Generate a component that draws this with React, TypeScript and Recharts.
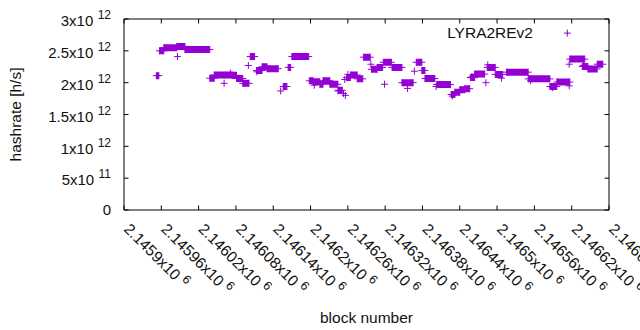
import React from 'react';
import { LineChart, Line, XAxis, YAxis, Legend } from 'recharts';

// series name shown in the key
const SERIES_NAME = 'LYRA2REv2';

// runs of equal hashrate: first block, last block, hashrate [h/s]
const runStart = [
  2145952, 2145957, 2145964, 2145985, 2145986, 2145998, 2146038, 2146045, 2146061, 2146062,
  2146071, 2146074, 2146081, 2146091, 2146100, 2146103, 2146113, 2146114, 2146122, 2146130,
  2146152, 2146156, 2146164, 2146170, 2146198, 2146204, 2146206, 2146215, 2146220, 2146231,
  2146244, 2146245, 2146253, 2146255, 2146256, 2146258, 2146260, 2146264, 2146275, 2146285,
  2146297, 2146298, 2146307, 2146317, 2146319, 2146331, 2146347, 2146356, 2146367, 2146370,
  2146379, 2146384, 2146402, 2146403, 2146426, 2146428, 2146432, 2146440, 2146448, 2146457,
  2146459, 2146464, 2146482, 2146484, 2146485, 2146497, 2146507, 2146515, 2146550, 2146554,
  2146585, 2146589, 2146596, 2146616, 2146616, 2146617, 2146637, 2146639, 2146646, 2146661,
];
const runEnd = [
  2145956, 2145964, 2145985, 2145998, 2145986, 2146038, 2146045, 2146061, 2146061, 2146074,
  2146071, 2146081, 2146091, 2146101, 2146100, 2146110, 2146122, 2146114, 2146130, 2146148,
  2146152, 2146162, 2146168, 2146197, 2146204, 2146215, 2146206, 2146220, 2146231, 2146244,
  2146244, 2146251, 2146253, 2146255, 2146256, 2146264, 2146260, 2146275, 2146284, 2146296,
  2146297, 2146307, 2146316, 2146330, 2146319, 2146347, 2146365, 2146356, 2146367, 2146379,
  2146384, 2146400, 2146402, 2146425, 2146432, 2146428, 2146440, 2146448, 2146456, 2146464,
  2146459, 2146480, 2146482, 2146497, 2146485, 2146509, 2146507, 2146550, 2146585, 2146554,
  2146596, 2146589, 2146617, 2146616, 2146616, 2146641, 2146646, 2146639, 2146661, 2146670,
];
const runRate = [
  2.11e12, 2.5e12, 2.55e12, 2.57e12, 2.41e12, 2.52e12, 2.07e12, 2.12e12, 1.99e12, 2.12e12,
  2.15e12, 2.115e12, 2.065e12, 1.99e12, 2.27e12, 2.41e12, 2.19e12, 2.17e12, 2.25e12, 2.22e12,
  1.87e12, 1.94e12, 2.24e12, 2.41e12, 2.03e12, 2.015e12, 1.96e12, 1.975e12, 2.03e12, 1.975e12,
  1.87e12, 1.88e12, 1.83e12, 2.05e12, 1.8e12, 2.08e12, 2.13e12, 2.12e12, 2.06e12, 2.4e12,
  2.29e12, 2.21e12, 2.24e12, 2.32e12, 1.975e12, 2.24e12, 2.0e12, 1.91e12, 2.18e12, 2.32e12,
  2.19e12, 2.065e12, 1.94e12, 1.97e12, 1.815e12, 1.79e12, 1.85e12, 1.89e12, 1.905e12, 2.08e12,
  2.09e12, 2.135e12, 2.0e12, 2.24e12, 2.28e12, 2.13e12, 2.07e12, 2.165e12, 2.06e12, 2.03e12,
  1.94e12, 1.92e12, 2.01e12, 1.95e12, 2.29e12, 2.37e12, 2.255e12, 2.27e12, 2.215e12, 2.29e12,
];

const xTicks = [
  2145900, 2145960, 2146020, 2146080, 2146140, 2146200, 2146260,
  2146320, 2146380, 2146440, 2146500, 2146560, 2146620, 2146680,
];
const yTicks = [0, 5e11, 1e12, 1.5e12, 2e12, 2.5e12, 3e12];

const PURPLE = '#9400d3';
const FONT = '"Liberation Sans", Arial, sans-serif';
const TEXT = '#111';

// each run becomes a segment, a null row breaks the line between runs
const lineData: { block: number; rate: number | null }[] = [];
runStart.forEach((s, i) => {
  lineData.push({ block: s, rate: runRate[i] });
  if (runEnd[i] !== s) lineData.push({ block: runEnd[i], rate: runRate[i] });
  lineData.push({ block: runEnd[i], rate: null });
});

// gnuplot style "mantissa x10^exp"
const sciParts = (v: number) => {
  if (v === 0) return { m: '0', e: '' };
  const e = Math.floor(Math.log10(v) + 1e-9);
  const m = parseFloat((v / Math.pow(10, e)).toFixed(5));
  return { m: `${m}x10`, e: ` ${e}` };
};

const cross = (cx: number, cy: number) => `M${cx - 3.5},${cy}h7M${cx},${cy - 3.5}v7`;

const renderDot = (props: any) => {
  const { cx, cy, index, value } = props;
  if (value == null || cx == null || cy == null || Number.isNaN(cy)) {
    return <g key={`d-${index}`} />;
  }
  return <path key={`d-${index}`} d={cross(cx, cy)} stroke={PURPLE} strokeWidth={1} fill="none" />;
};

const BottomTick = (props: any) => {
  const { x, y, payload } = props;
  const { m, e } = sciParts(payload.value);
  return (
    <g>
      <line x1={x} x2={x} y1={y} y2={y - 4.5} stroke="#000" />
      <text
        transform={`translate(${x - 1},${y + 20}) rotate(45)`}
        fontFamily={FONT}
        fontSize={15.5}
        fill={TEXT}
      >
        {m}
        <tspan dx={1} dy={-6} fontSize={12.4}>{e}</tspan>
      </text>
    </g>
  );
};

const TopTick = (props: any) => {
  const { x, y } = props;
  return <line x1={x} x2={x} y1={y} y2={y + 4.5} stroke="#000" />;
};

const LeftTick = (props: any) => {
  const { x, y, payload } = props;
  const { m, e } = sciParts(payload.value);
  return (
    <g>
      <line x1={x} x2={x + 4.5} y1={y} y2={y} stroke="#000" />
      <text
        x={x - 13}
        y={y + (e ? 7.3 : 5.4)}
        textAnchor="end"
        fontFamily={FONT}
        fontSize={15}
        fill={TEXT}
      >
        {m}
        {e ? <tspan dx={1} dy={-7} fontSize={12}>{e}</tspan> : null}
      </text>
    </g>
  );
};

const RightTick = (props: any) => {
  const { x, y } = props;
  return <line x1={x} x2={x - 4.5} y1={y} y2={y} stroke="#000" />;
};

const renderLegend = (props: any) => {
  const name = props.payload?.[0]?.value ?? SERIES_NAME;
  return (
    <div
      style={{
        position: 'relative',
        width: 250,
        height: 18,
        fontFamily: FONT,
        fontSize: 15.5,
        lineHeight: '18px',
        color: TEXT,
      }}
    >
      <span style={{ position: 'absolute', right: 50, top: 0, whiteSpace: 'nowrap' }}>{name}</span>
      <svg width={250} height={18} style={{ position: 'absolute', left: 0, top: 0, overflow: 'visible' }}>
        <path d={cross(234.3, 9.1)} stroke={PURPLE} strokeWidth={1} fill="none" />
      </svg>
    </div>
  );
};

const renderXLabel = (p: any) => {
  const vb = p.viewBox || { x: 124, y: 210, width: 485 };
  return (
    <text
      x={vb.x + vb.width / 2}
      y={322.5}
      textAnchor="middle"
      fontFamily={FONT}
      fontSize={15.5}
      fill={TEXT}
    >
      block number
    </text>
  );
};

const renderYLabel = (p: any) => {
  const vb = p.viewBox || { x: 123, y: 19, height: 191 };
  const cx = 21;
  const cy = vb.y + vb.height / 2;
  return (
    <text
      x={cx}
      y={cy}
      transform={`rotate(-90, ${cx}, ${cy})`}
      textAnchor="middle"
      fontFamily={FONT}
      fontSize={15.5}
      fill={TEXT}
    >
      hashrate [h/s]
    </text>
  );
};

export default function App() {
  return (
    <div style={{ position: 'absolute', left: 0, top: 0, width: 640, height: 330, background: '#fff' }}>
      <LineChart
        width={640}
        height={330}
        data={lineData}
        margin={{ top: 18, right: 30, bottom: 119, left: 123 }}
      >
        <XAxis
          xAxisId="bottom"
          dataKey="block"
          type="number"
          domain={[2145900, 2146680]}
          ticks={xTicks}
          height={1}
          tickSize={0}
          tickMargin={0}
          interval={0}
          axisLine={{ stroke: '#000' }}
          tickLine={false}
          tick={<BottomTick />}
          allowDataOverflow
          label={renderXLabel}
        />
        <XAxis
          xAxisId="top"
          orientation="top"
          dataKey="block"
          type="number"
          domain={[2145900, 2146680]}
          ticks={xTicks}
          height={1}
          tickSize={0}
          tickMargin={0}
          interval={0}
          axisLine={{ stroke: '#000' }}
          tickLine={false}
          tick={<TopTick />}
          allowDataOverflow
        />
        <YAxis
          yAxisId="left"
          type="number"
          domain={[0, 3e12]}
          ticks={yTicks}
          width={1}
          tickSize={0}
          tickMargin={0}
          interval={0}
          axisLine={{ stroke: '#000' }}
          tickLine={false}
          tick={<LeftTick />}
          allowDataOverflow
          label={renderYLabel}
        />
        <YAxis
          yAxisId="right"
          orientation="right"
          type="number"
          domain={[0, 3e12]}
          ticks={yTicks}
          width={1}
          tickSize={0}
          tickMargin={0}
          interval={0}
          axisLine={{ stroke: '#000' }}
          tickLine={false}
          tick={<RightTick />}
          allowDataOverflow
        />
        <Legend
          layout="horizontal"
          verticalAlign="middle"
          align="center"
          wrapperStyle={{ left: 333, top: 23.6, width: 250, height: 18 }}
          content={renderLegend}
        />
        <Line
          xAxisId="bottom"
          yAxisId="left"
          name={SERIES_NAME}
          dataKey="rate"
          type="linear"
          stroke={PURPLE}
          strokeWidth={7}
          strokeLinecap="butt"
          dot={renderDot}
          activeDot={false}
          connectNulls={false}
          isAnimationActive={false}
        />
      </LineChart>
    </div>
  );
}
